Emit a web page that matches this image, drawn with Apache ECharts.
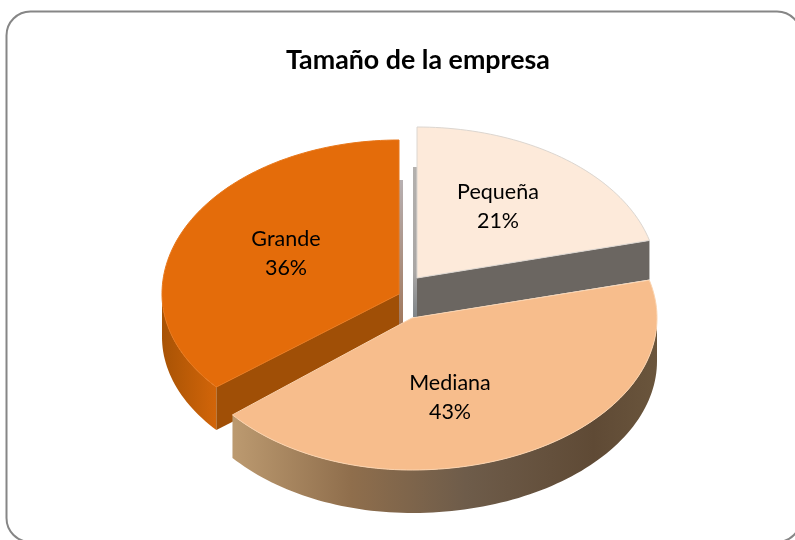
<!DOCTYPE html>
<html><head><meta charset="utf-8">
<style>html,body{margin:0;padding:0;background:#fff}#c{width:795px;height:540px}</style>
<script src="https://cdn.jsdelivr.net/npm/echarts@6/dist/echarts.min.js"></script>
</head><body><div id="c"></div>
<script>
const categories = ['Pequeña', 'Mediana', 'Grande'];
const shares = [21, 43, 36];
const titleText = 'Tamaño de la empresa';

// Per-slice look and placement (not data)
const look = {
  'Pequeña': {apex:[417,278], depth:39, top:'#FDEADA', edge:'#dcd6d0', cut:'#6b6661', wall:'#6b6661', label:[498,207], rx:240, ry:151, order:1},
  'Mediana': {apex:[412,318], depth:43, top:'#F7BD8C', edge:'#FBD3AE', cut:'#6b6661', label:[450,398], rx:245, rxL:233, ry:152, order:2,
    wall:{type:'linear',x:0,y:0,x2:1,y2:0,colorStops:[{offset:0,color:'#BC9A70'},{offset:.28,color:'#8F6E4C'},{offset:.55,color:'#6E5C4A'},{offset:.85,color:'#5F4A35'},{offset:1,color:'#6A553C'}]}},
  'Grande': {apex:[399,294], depth:43, top:'#E46C0A', edge:'#E8771A', cut:'#A04F06', label:[286,254], rx:237, ry:154, ryB:146, order:0,
    wall:{type:'linear',x:0,y:0,x2:1,y2:0,colorStops:[{offset:0,color:'#A85305'},{offset:1,color:'#D26509'}]}}
};

const total = shares.reduce((a, b) => a + b, 0);
const startDeg = [];
shares.reduce((acc, v, i) => { startDeg[i] = acc; return acc + v / total * 360; }, 0);

function pt(l, deg, dy) {
  const r = deg * Math.PI / 180, s = Math.sin(r), c = Math.cos(r);
  const rx = s < 0 && l.rxL ? l.rxL : l.rx;
  const ry = c < 0 && l.ryB ? l.ryB : l.ry;
  return [l.apex[0] + rx * s, l.apex[1] - ry * c + (dy || 0)];
}
function arc(l, a, b, dy) {
  const out = [], n = Math.max(2, Math.ceil(Math.abs(b - a) / 1.5));
  for (let i = 0; i <= n; i++) out.push(pt(l, a + (b - a) * i / n, dy));
  return out;
}

function renderItem(params, api) {
  const i = api.value(0), v = api.value(1);
  const name = categories[i], l = look[name];
  const a = startDeg[i], b = a + v / total * 360;
  const children = [];
  const poly = (points, fill, stroke, z) => children.push({type:'polygon', z2:z||1, shape:{points},
    style:{fill, stroke:stroke||null, lineWidth:stroke?1:0}});

  // thin sliver of the start cut seen edge-on
  if (name === 'Pequeña') poly([[l.apex[0]-4,167],[l.apex[0],167],[l.apex[0],l.apex[1]+39],[l.apex[0]-4,l.apex[1]+39]],
    {type:'linear',x:0,y:0,x2:0,y2:1,colorStops:[{offset:0,color:'#B4B1AE'},{offset:.7,color:'#A9A6A4'},{offset:1,color:'#7F8488'}]});
  if (name === 'Grande') poly([[l.apex[0],180],[l.apex[0]+4,180],[l.apex[0]+4,330],[l.apex[0],330]],
    {type:'linear',x:0,y:0,x2:0,y2:1,colorStops:[{offset:0,color:'#B7B0B2'},{offset:1,color:'#A0765A'}]});

  // outer rim wall: only the part of the arc facing the viewer
  const wa = Math.max(a, 90), wb = Math.min(b, 270);
  if (wb > wa) {
    const upper = arc(l, wa, wb, 0), lower = arc(l, wb, wa, l.depth);
    poly(upper.concat(lower), l.wall);
  }
  // cut wall
  if (name === 'Pequeña' || name === 'Grande') {
    const ang = name === 'Pequeña' ? b : a;
    const e = pt(l, ang, 0);
    poly([l.apex, e, [e[0], e[1]+l.depth], [l.apex[0], l.apex[1]+l.depth]], l.cut);
  }
  // top face
  poly([l.apex].concat(arc(l, a, b, 0)), l.top, l.edge, 3);

  const pct = Math.round(v / total * 100) + '%';
  children.push({type:'text', z2:5, style:{x:l.label[0], y:l.label[1], text:name + '\n' + pct,
    align:'center', verticalAlign:'middle', fill:'#000', font:'21.5px Lato, Carlito, sans-serif', lineHeight:29}});
  return {type:'group', children};
}

const order = categories.map((c, i) => i).sort((p, q) => look[categories[p]].order - look[categories[q]].order);
const chart = echarts.init(document.getElementById('c'), null, {renderer:'canvas'});
chart.setOption({
  animation:false,
  backgroundColor:'#fff',
  title:{text:titleText, left:281, top:42,
    textStyle:{fontFamily:'Lato, Carlito, sans-serif', fontWeight:'bold', fontSize:26.8, color:'#000'}},
  graphic:[{type:'rect', silent:true, z:-1, shape:{x:6.5,y:11.5,width:794.5,height:530.5,r:24},
    style:{fill:'#fff', stroke:'#868686', lineWidth:2}}],
  series:[{type:'custom', coordinateSystem:'none', renderItem,
    data: order.map(i => [i, shares[i]])}]
});
</script></body></html>
